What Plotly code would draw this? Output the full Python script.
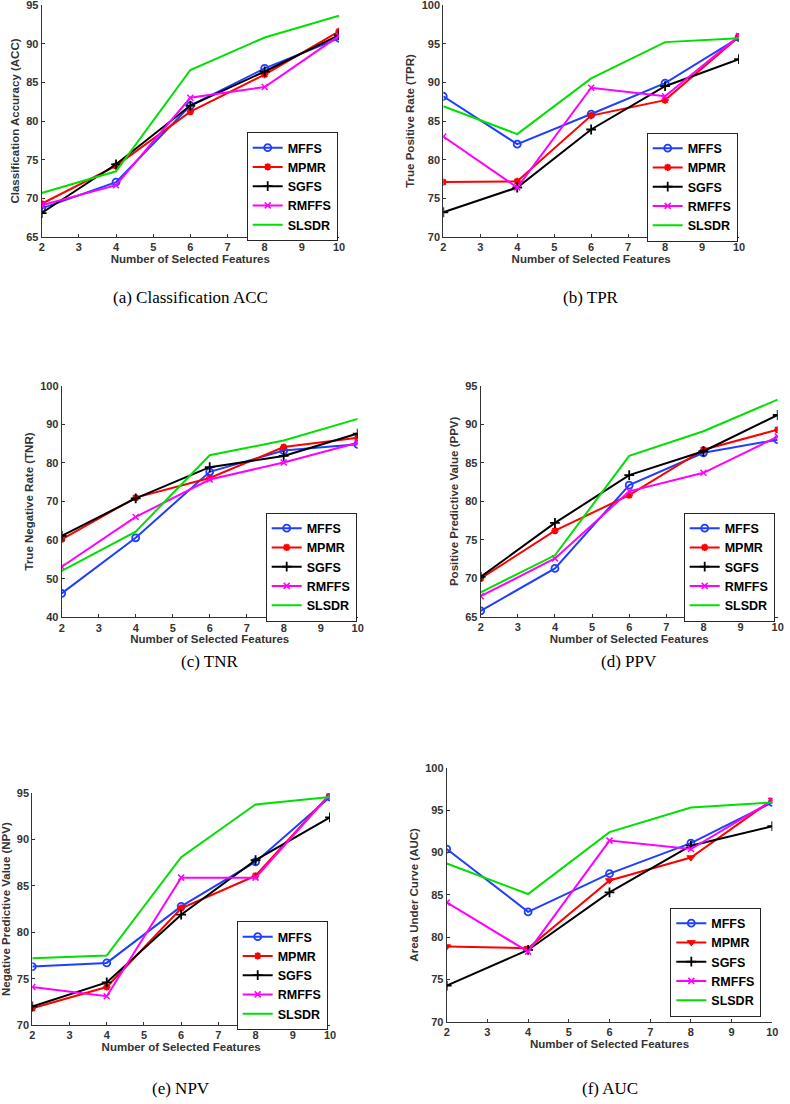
import plotly.graph_objects as go

W, H = 790, 1104

features = [2, 4, 6, 8, 10]
methods = ["MFFS", "MPMR", "SGFS", "RMFFS", "SLSDR"]

# (a) Classification ACC
acc_mffs = [68.7, 72.1, 82.0, 86.8, 90.7]
acc_mpmr = [69.3, 74.2, 81.2, 86.0, 91.6]
acc_sgfs = [68.1, 74.4, 82.0, 86.4, 91.1]
acc_rmffs = [69.1, 71.7, 83.0, 84.4, 91.0]
acc_slsdr = [70.7, 73.5, 86.6, 90.8, 93.6]

# (b) TPR
tpr_mffs = [88.2, 82.0, 85.9, 89.9, 95.8]
tpr_mpmr = [77.1, 77.2, 85.7, 87.7, 95.9]
tpr_sgfs = [73.2, 76.4, 83.9, 89.5, 93.0]
tpr_rmffs = [83.0, 76.4, 89.3, 88.2, 96.0]
tpr_slsdr = [86.9, 83.3, 90.5, 95.2, 95.7]

# (c) TNR
tnr_mffs = [46.2, 60.6, 77.7, 83.2, 84.8]
tnr_mpmr = [60.2, 71.0, 76.1, 84.1, 86.5]
tnr_sgfs = [61.1, 70.8, 78.9, 81.8, 87.6]
tnr_rmffs = [53.1, 66.0, 75.7, 80.1, 85.2]
tnr_slsdr = [52.0, 62.2, 82.0, 85.8, 91.4]

# (d) PPV
ppv_mffs = [65.8, 71.3, 82.1, 86.3, 88.0]
ppv_mpmr = [70.0, 76.2, 80.8, 86.7, 89.3]
ppv_sgfs = [70.2, 77.2, 83.4, 86.5, 91.2]
ppv_rmffs = [67.7, 72.6, 81.3, 83.7, 88.4]
ppv_slsdr = [68.2, 73.0, 85.9, 89.1, 93.2]

# (e) NPV
npv_mffs = [76.3, 76.7, 82.8, 87.6, 94.6]
npv_mpmr = [71.8, 74.1, 82.6, 86.1, 94.9]
npv_sgfs = [72.0, 74.6, 81.9, 87.8, 92.4]
npv_rmffs = [74.1, 73.1, 85.9, 85.9, 94.9]
npv_slsdr = [77.2, 77.5, 88.1, 93.8, 94.6]

# (f) AUC
auc_mffs = [90.4, 83.0, 87.5, 91.1, 95.9]
auc_mpmr = [78.9, 78.7, 86.7, 89.4, 96.2]
auc_sgfs = [74.3, 78.5, 85.3, 90.8, 93.1]
auc_rmffs = [84.1, 78.3, 91.4, 90.4, 96.1]
auc_slsdr = [88.7, 85.1, 92.4, 95.3, 95.9]

y_titles = ["Classification Accuracy (ACC)", "True Positive Rate (TPR)",
            "True Negative Rate (TNR)", "Positive Predictive Value (PPV)",
            "Negative Predictive Value (NPV)", "Area Under Curve (AUC)"]
captions = ["(a) Classification ACC", "(b) TPR", "(c) TNR",
            "(d) PPV", "(e) NPV", "(f) AUC"]
y_ranges = [[65, 95], [70, 100], [40, 100], [65, 95], [70, 95], [70, 100]]
y_dticks = [5, 5, 10, 5, 5, 5]

panel_data = [
    [acc_mffs, acc_mpmr, acc_sgfs, acc_rmffs, acc_slsdr],
    [tpr_mffs, tpr_mpmr, tpr_sgfs, tpr_rmffs, tpr_slsdr],
    [tnr_mffs, tnr_mpmr, tnr_sgfs, tnr_rmffs, tnr_slsdr],
    [ppv_mffs, ppv_mpmr, ppv_sgfs, ppv_rmffs, ppv_slsdr],
    [npv_mffs, npv_mpmr, npv_sgfs, npv_rmffs, npv_slsdr],
    [auc_mffs, auc_mpmr, auc_sgfs, auc_rmffs, auc_slsdr],
]

# layout (pixels): plot area x0, x1, y0(top), y1(bottom)
boxes = [
    (41.7, 339.0, 5.0, 237.0),
    (443.3, 739.0, 5.0, 237.0),
    (61.7, 357.7, 385.7, 617.3),
    (480.7, 777.7, 385.7, 617.0),
    (32.3, 330.0, 793.3, 1025.0),
    (446.7, 772.3, 767.7, 1022.0),
]
legend_pos = [
    (246.7, 132.0), (646.7, 132.5), (265.7, 512.5),
    (683.7, 512.5), (236.7, 921.0), (670.3, 907.5),
]
caption_y = [297, 297, 661, 661, 1088, 1088]

colors = ["#1f3fff", "#ff0000", "#000000", "#ff00ff", "#00e000"]
axis_col = "#333333"
font_sans = "Liberation Sans, Arial, sans-serif"


def px(xp):
    return xp / W


def py(yp):
    return 1 - yp / H


fig = go.Figure()

for p in range(6):
    sfx = "" if p == 0 else str(p + 1)
    xa, ya = "x" + sfx, "y" + sfx
    leg = "legend" + sfx
    for m, name in enumerate(methods):
        vals = panel_data[p][m]
        if m == 0:
            marker = dict(symbol="circle-open", size=7, color=colors[m],
                          line=dict(width=1.8, color=colors[m]))
            mode = "lines+markers"
        elif m == 1:
            if p == 5:
                marker = dict(symbol="triangle-down", size=7, color=colors[m],
                              line=dict(width=1, color=colors[m]))
            else:
                marker = dict(symbol="asterisk-open", size=6, color=colors[m],
                              line=dict(width=2, color=colors[m]))
            mode = "lines+markers"
        elif m == 2:
            marker = dict(symbol="cross-thin-open", size=7, color=colors[m],
                          line=dict(width=1.8, color=colors[m]))
            mode = "lines+markers"
        elif m == 3:
            marker = dict(symbol="x-thin-open", size=6, color=colors[m],
                          line=dict(width=1.5, color=colors[m]))
            mode = "lines+markers"
        else:
            marker = None
            mode = "lines"
        tr = dict(x=features, y=vals, name=name, mode=mode,
                  line=dict(color=colors[m], width=2),
                  xaxis=xa, yaxis=ya, legend=leg, showlegend=True)
        if marker is not None:
            tr["marker"] = marker
        fig.add_trace(go.Scatter(**tr))

    x0, x1, y0, y1 = boxes[p]
    xkey = "xaxis" if p == 0 else "xaxis" + str(p + 1)
    ykey = "yaxis" if p == 0 else "yaxis" + str(p + 1)
    common = dict(showline=True, linecolor=axis_col, linewidth=1,
                  ticks="inside", ticklen=3, tickcolor=axis_col,
                  showgrid=False, zeroline=False, mirror=False,
                  automargin=False, ticklabeloverflow="allow",
                  tickfont=dict(family=font_sans, size=11, color=axis_col,
                                weight="bold"))
    fig.update_layout(**{
        xkey: dict(domain=[px(x0), px(x1)], range=[2, 10], dtick=1, tick0=2,
                   anchor=ya,
                   title=dict(text="Number of Selected Features", standoff=2,
                              font=dict(family=font_sans, size=11.5,
                                        color=axis_col, weight="bold")),
                   **common),
        ykey: dict(domain=[py(y1), py(y0)], range=y_ranges[p],
                   dtick=y_dticks[p], anchor=xa,
                   title=dict(text=y_titles[p], standoff=4,
                              font=dict(family=font_sans, size=11.5,
                                        color=axis_col, weight="bold")),
                   **common),
    })
    lx, ly = legend_pos[p]
    fig.update_layout(**{leg: dict(
        x=px(lx), y=py(ly), xanchor="left", yanchor="top",
        bgcolor="white", bordercolor="#262626", borderwidth=1,
        font=dict(family=font_sans, size=12.5, color="#000000", weight="bold"),
        itemwidth=30, tracegroupgap=0)})
    fig.add_annotation(x=px((x0 + x1) / 2), y=py(caption_y[p]),
                       xref="paper", yref="paper", text=captions[p],
                       showarrow=False, xanchor="center", yanchor="middle",
                       font=dict(family="Liberation Serif, serif", size=17,
                                 color="#000000"))

fig.update_layout(width=W, height=H, margin=dict(l=0, r=0, t=0, b=0),
                  paper_bgcolor="white", plot_bgcolor="white")

fig.write_html("out.html", config={"displayModeBar": False},
               post_script="document.body.style.margin='0';"
                           "document.body.style.overflow='hidden';")
